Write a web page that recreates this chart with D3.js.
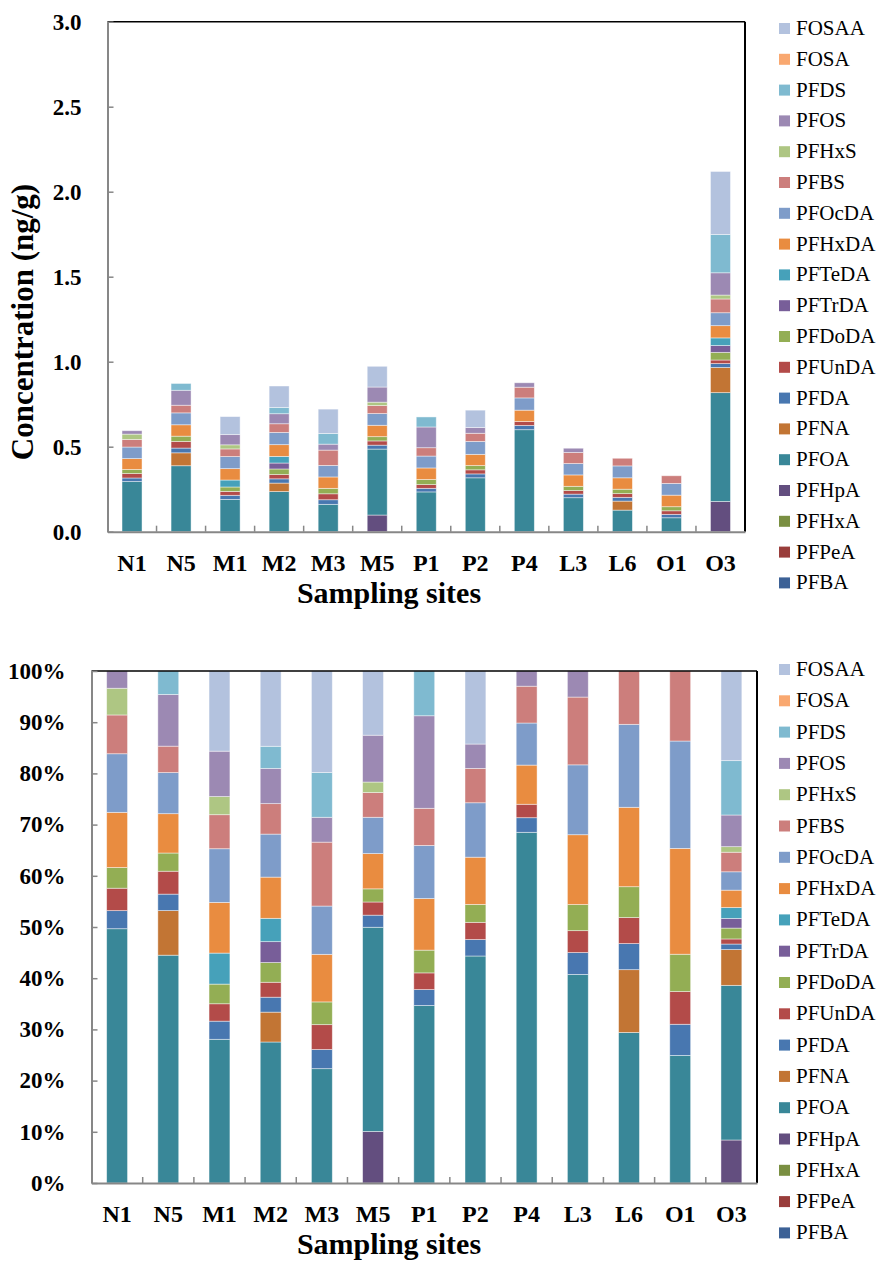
<!DOCTYPE html>
<html>
<head>
<meta charset="utf-8">
<script src="https://cdn.jsdelivr.net/npm/d3@7"></script>
<style>
  body { margin: 0; background: #fff; }
  svg { display: block; }
  text { font-family: "Liberation Serif", "Times New Roman", serif; fill: #000; }
</style>
</head>
<body>
<svg id="fig" width="882" height="1261"></svg>
<script>
// Sampling sites
const sites = ["N1", "N5", "M1", "M2", "M3", "M5", "P1", "P2", "P4", "L3", "L6", "O1", "O3"];

// Concentrations (ng/g) of each compound, one value per site in the order above
const PFBA   = [0, 0, 0, 0, 0, 0, 0, 0, 0, 0, 0, 0, 0];
const PFPeA  = [0, 0, 0, 0, 0, 0, 0, 0, 0, 0, 0, 0, 0];
const PFHxA  = [0, 0, 0, 0, 0, 0, 0, 0, 0, 0, 0, 0, 0];
const PFHpA  = [0, 0, 0, 0, 0, 0.098, 0, 0, 0, 0, 0, 0, 0.178];
const PFOA   = [0.295, 0.388, 0.190, 0.236, 0.161, 0.388, 0.234, 0.317, 0.600, 0.200, 0.127, 0.082, 0.640];
const PFNA   = [0, 0.076, 0, 0.050, 0, 0, 0, 0, 0, 0, 0.053, 0, 0.148];
const PFDA   = [0.021, 0.028, 0.024, 0.025, 0.027, 0.023, 0.021, 0.023, 0.025, 0.021, 0.022, 0.020, 0.023];
const PFUnDA = [0.026, 0.039, 0.023, 0.025, 0.035, 0.025, 0.022, 0.024, 0.023, 0.021, 0.022, 0.021, 0.021];
const PFDoDA = [0.024, 0.031, 0.026, 0.033, 0.032, 0.025, 0.030, 0.025, 0, 0.025, 0.026, 0.024, 0.045];
const PFTrDA = [0, 0, 0, 0.035, 0, 0, 0, 0, 0, 0, 0, 0, 0.040];
const PFTeDA = [0, 0, 0.041, 0.039, 0, 0, 0, 0, 0, 0, 0, 0, 0.045];
const PFHxDA = [0.064, 0.067, 0.067, 0.069, 0.067, 0.067, 0.068, 0.066, 0.067, 0.067, 0.067, 0.068, 0.072];
const PFOcDA = [0.068, 0.070, 0.071, 0.072, 0.068, 0.069, 0.070, 0.076, 0.072, 0.067, 0.070, 0.069, 0.076];
const PFBS   = [0.045, 0.045, 0.045, 0.051, 0.090, 0.047, 0.049, 0.048, 0.063, 0.065, 0.045, 0.045, 0.081];
const PFHxS  = [0.031, 0, 0.024, 0, 0, 0.020, 0, 0, 0, 0, 0, 0, 0.023];
const PFOS   = [0.020, 0.088, 0.060, 0.059, 0.035, 0.089, 0.122, 0.034, 0.026, 0.025, 0, 0, 0.131];
const PFDS   = [0, 0.040, 0, 0.037, 0.063, 0, 0.059, 0, 0, 0, 0, 0, 0.225];
const FOSA   = [0, 0, 0, 0, 0, 0, 0, 0, 0, 0, 0, 0, 0];
const FOSAA  = [0, 0, 0.106, 0.126, 0.143, 0.122, 0, 0.102, 0, 0, 0, 0, 0.371];

// Stacking order, bottom to top
const compounds = ["PFBA", "PFPeA", "PFHxA", "PFHpA", "PFOA", "PFNA", "PFDA", "PFUnDA", "PFDoDA",
                   "PFTrDA", "PFTeDA", "PFHxDA", "PFOcDA", "PFBS", "PFHxS", "PFOS", "PFDS", "FOSA", "FOSAA"];
const compoundColors = ["#3c6196", "#993d3b", "#7a8f42", "#634e7f", "#398798", "#c27534", "#4877b0", "#b34b49", "#93ae54",
                        "#785e99", "#46a1ba", "#e98c40", "#7e9cc9", "#cc7e7c", "#aec683", "#9c89b3", "#7fbad0", "#f9a870", "#b3c2de"];

// Concentration axis ticks and percentage axis ticks
const concTicks = [0, 0.5, 1.0, 1.5, 2.0, 2.5, 3.0];
const pctTicks = [0, 0.1, 0.2, 0.3, 0.4, 0.5, 0.6, 0.7, 0.8, 0.9, 1.0];

const valuesByCompound = { PFBA, PFPeA, PFHxA, PFHpA, PFOA, PFNA, PFDA, PFUnDA, PFDoDA, PFTrDA,
                           PFTeDA, PFHxDA, PFOcDA, PFBS, PFHxS, PFOS, PFDS, FOSA, FOSAA };
const rows = sites.map((site, i) => {
  const r = { site };
  compounds.forEach(c => { r[c] = valuesByCompound[c][i]; });
  return r;
});
const color = d3.scaleOrdinal().domain(compounds).range(compoundColors);

const svg = d3.select("#fig");
const SERIF = "'Liberation Serif','Times New Roman',serif";
const FONT_TICK = 23, FONT_CAT = 24, FONT_TITLE = 30, FONT_LEG = 21;

function drawPanel(opts) {
  const { left, right, top, bottom, yScale, stacked, tickValues, tickFormat, legendTop, legendStep, yLabel, titleY } = opts;
  const g = svg.append("g");

  const x = d3.scaleBand().domain(sites).range([left, right]).paddingInner(0.592).paddingOuter(0.296);

  // stacked bars
  g.append("g").selectAll("g").data(stacked).join("g")
    .attr("fill", d => color(d.key))
    .selectAll("rect").data(d => d).join("rect")
      .attr("x", d => x(d.data.site))
      .attr("width", x.bandwidth())
      .attr("y", d => yScale(d[1]))
      .attr("height", d => Math.max(0, yScale(d[0]) - yScale(d[1])))
      .attr("stroke", "rgba(255,255,255,0.55)")
      .attr("stroke-width", 0.8);

  // frame: top and right in black
  g.append("line").attr("x1", left).attr("x2", right).attr("y1", top).attr("y2", top)
    .attr("stroke", "#000").attr("stroke-width", 1.5);
  g.append("line").attr("x1", right).attr("x2", right).attr("y1", top).attr("y2", bottom)
    .attr("stroke", "#000").attr("stroke-width", 2);

  // y axis with inward ticks
  const yAxis = d3.axisLeft(yScale).tickValues(tickValues).tickFormat(tickFormat)
    .tickSizeInner(-6).tickSizeOuter(0).tickPadding(26);
  const ya = g.append("g").attr("transform", `translate(${left},0)`).call(yAxis);
  ya.select(".domain").attr("stroke", "#878787").attr("stroke-width", 2);
  ya.selectAll(".tick line").attr("stroke", "#878787").attr("stroke-width", 1.5);
  ya.selectAll(".tick text").attr("font-size", FONT_TICK).attr("font-weight", "bold")
    .attr("font-family", SERIF).attr("fill", "#000");

  // x axis: category labels
  const xAxis = d3.axisBottom(x).tickSizeInner(0).tickSizeOuter(0).tickPadding(22);
  const xa = g.append("g").attr("transform", `translate(0,${bottom})`).call(xAxis);
  xa.select(".domain").attr("stroke", "#878787").attr("stroke-width", 2);
  xa.selectAll(".tick text").attr("font-size", FONT_CAT).attr("font-weight", "bold")
    .attr("font-family", SERIF).attr("fill", "#000");

  // small ticks between categories
  const bounds = sites.slice(0, -1).map(s => x(s) + x.bandwidth() / 2 + x.step() / 2);
  g.append("g").selectAll("line").data(bounds).join("line")
    .attr("x1", d => d).attr("x2", d => d)
    .attr("y1", bottom).attr("y2", bottom - 6)
    .attr("stroke", "#878787").attr("stroke-width", 1.5);

  // axis titles
  g.append("text").attr("x", 389).attr("y", titleY).attr("text-anchor", "middle")
    .attr("font-family", SERIF).attr("font-size", FONT_TITLE).attr("font-weight", "bold").text("Sampling sites");
  if (yLabel) {
    g.append("text").attr("transform", `translate(${yLabel.x},${yLabel.y}) rotate(-90)`)
      .attr("text-anchor", "middle").attr("font-family", SERIF).attr("font-size", 31)
      .attr("font-weight", "bold").text(yLabel.text);
  }

  // legend, top entry is the top of the stack
  const legendItems = compounds.slice().reverse();
  const lg = g.append("g").selectAll("g").data(legendItems).join("g")
    .attr("transform", (d, i) => `translate(779,${legendTop + i * legendStep})`);
  lg.append("rect").attr("x", 0).attr("y", -5).attr("width", 11).attr("height", 11).attr("fill", d => color(d));
  lg.append("text").attr("x", 17).attr("y", 7).attr("font-family", SERIF)
    .attr("font-size", FONT_LEG).text(d => d);
}

// Panel 1: concentrations
const stackAbs = d3.stack().keys(compounds)(rows);
drawPanel({
  left: 107.5, right: 745, top: 21.7, bottom: 531.7,
  yScale: d3.scaleLinear().domain([0, 3]).range([531.7, 21.7]),
  stacked: stackAbs,
  tickValues: concTicks, tickFormat: d3.format(".1f"),
  legendTop: 28, legendStep: 30.8,
  yLabel: { x: 33, y: 322, text: "Concentration (ng/g)" },
  titleY: 603
});

// Panel 2: composition profile
const stackPct = d3.stack().keys(compounds).offset(d3.stackOffsetExpand)(rows);
drawPanel({
  left: 91.5, right: 757, top: 671, bottom: 1183,
  yScale: d3.scaleLinear().domain([0, 1]).range([1183, 671]),
  stacked: stackPct,
  tickValues: pctTicks, tickFormat: d3.format(".0%"),
  legendTop: 669, legendStep: 31.3,
  yLabel: null,
  titleY: 1254
});
</script>
</body>
</html>
